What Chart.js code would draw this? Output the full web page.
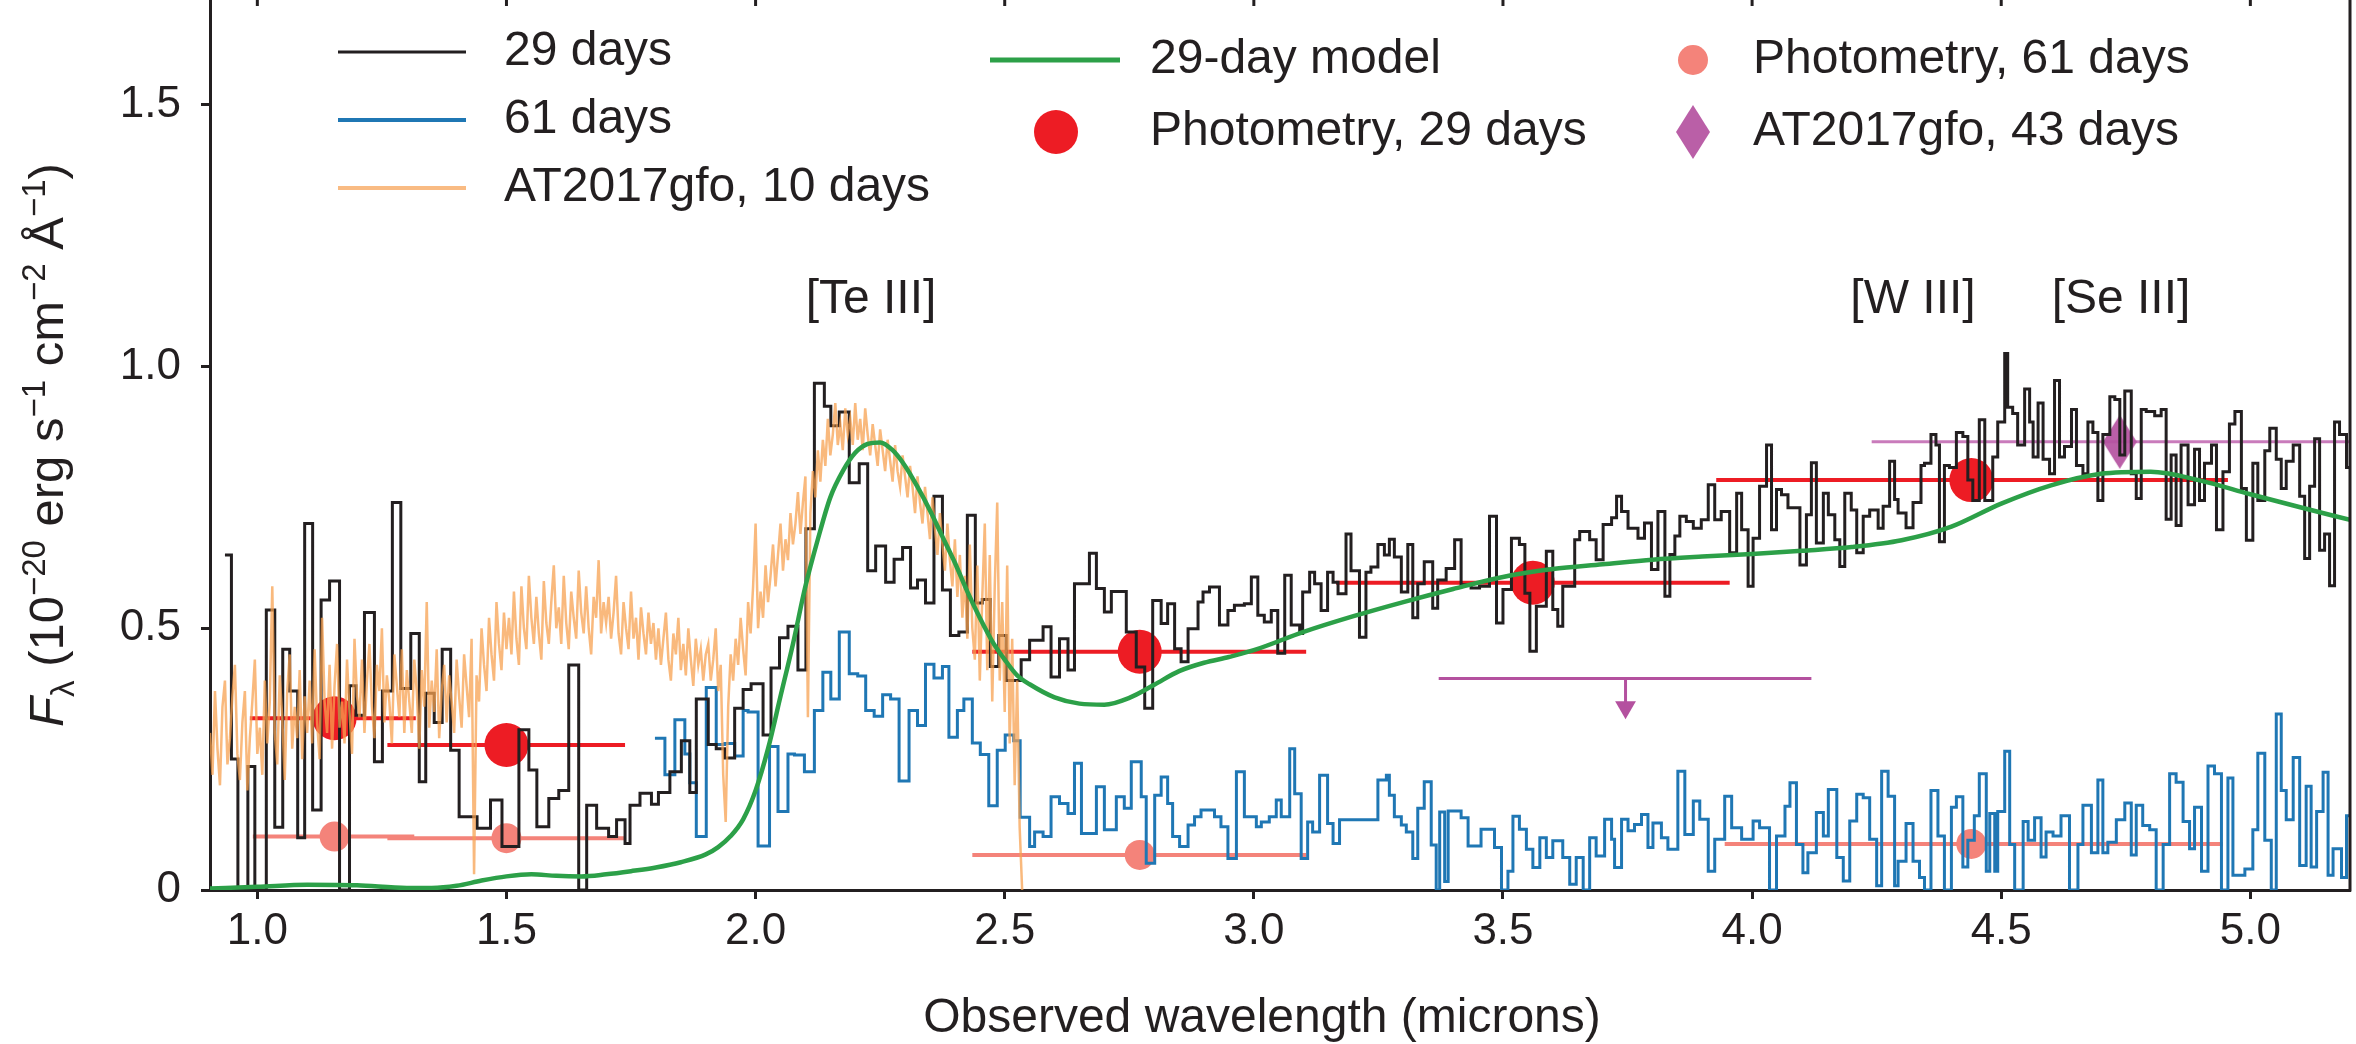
<!DOCTYPE html>
<html><head><meta charset="utf-8">
<script src="https://cdn.jsdelivr.net/npm/chart.js@4.4.1/dist/chart.umd.min.js"></script>
<style>html,body{margin:0;padding:0;background:#fff;overflow:hidden}#wrap{width:2356px;height:1044px;position:relative}</style>
</head><body><div id="wrap"><canvas id="c" width="2356" height="1044"></canvas></div>
<script>
const INK = '#231f20';
const FONT = '"Liberation Sans", Arial, Helvetica, sans-serif';
const C_BLACK = '#231f20', C_BLUE = '#1f77b4', C_ORANGE = 'rgba(247,160,80,0.74)', C_GREEN = '#2ca048';
const C_RED = '#ed1c24', C_SALMON = '#f4837a', C_MAG = '#b4519f', C_MAG_LIGHT = '#c97bbb';

const xTicks = [1.0, 1.5, 2.0, 2.5, 3.0, 3.5, 4.0, 4.5, 5.0];
const xTickLabels = ['1.0', '1.5', '2.0', '2.5', '3.0', '3.5', '4.0', '4.5', '5.0'];
const yTicks = [0, 0.5, 1.0, 1.5];
const yTickLabels = ['0', '0.5', '1.0', '1.5'];
const xRange = [0.905, 5.2];
const yRange = [0, 1.7];

// 29-day spectrum: [bin left edge (micron), flux]
const spec29 = [
[0.935,0.64],[0.948,0.25],[0.961,0.0],[0.981,0.236],[0.995,0.0],[1.018,0.535],[1.035,0.12],[1.051,0.46],[1.065,0.38],[1.081,0.10],
[1.095,0.70],[1.111,0.153],[1.128,0.554],[1.145,0.59],[1.165,0.0],[1.185,0.39],[1.198,0.334],[1.215,0.53],[1.235,0.245],[1.251,0.38],
[1.271,0.74],[1.288,0.385],[1.308,0.49],[1.325,0.207],[1.338,0.376],[1.355,0.32],[1.371,0.46],[1.388,0.267],[1.405,0.14],[1.441,0.118],
[1.468,0.172],[1.491,0.083],[1.525,0.306],[1.545,0.229],[1.561,0.121],[1.585,0.175],[1.605,0.19],[1.625,0.43],[1.645,0.0],[1.661,0.162],
[1.681,0.118],[1.705,0.102],[1.721,0.134],[1.738,0.089],[1.748,0.162],[1.768,0.185],[1.791,0.164],[1.805,0.186],[1.828,0.226],[1.851,0.285],
[1.868,0.186],[1.881,0.365],[1.905,0.278],[1.921,0.27],[1.938,0.252],[1.958,0.347],[1.975,0.383],[1.991,0.394],[2.015,0.296],[2.031,0.424],
[2.048,0.482],[2.065,0.504],[2.085,0.42],[2.101,0.69],[2.118,0.968],[2.138,0.924],[2.151,0.887],[2.168,0.913],[2.188,0.778],[2.208,0.814],
[2.225,0.61],[2.241,0.657],[2.261,0.588],[2.278,0.632],[2.295,0.654],[2.311,0.577],[2.325,0.592],[2.341,0.548],[2.358,0.752],[2.375,0.573],
[2.391,0.486],[2.408,0.493],[2.425,0.716],[2.441,0.548],[2.455,0.555],[2.471,0.427],[2.488,0.486],[2.503,0.40],[2.533,0.44],[2.55,0.477],
[2.577,0.503],[2.593,0.407],[2.61,0.48],[2.627,0.42],[2.64,0.585],[2.67,0.643],[2.684,0.576],[2.70,0.531],[2.714,0.57],[2.744,0.493],
[2.764,0.426],[2.781,0.347],[2.797,0.553],[2.814,0.509],[2.827,0.547],[2.841,0.461],[2.854,0.436],[2.868,0.499],[2.888,0.55],[2.898,0.569],
[2.911,0.579],[2.931,0.506],[2.948,0.534],[2.961,0.544],[2.981,0.547],[2.995,0.598],[3.008,0.525],[3.021,0.512],[3.035,0.534],[3.048,0.452],
[3.062,0.601],[3.075,0.506],[3.092,0.49],[3.098,0.569],[3.112,0.607],[3.122,0.585],[3.135,0.534],[3.148,0.607],[3.159,0.588],[3.169,0.566],
[3.185,0.68],[3.195,0.61],[3.212,0.483],[3.225,0.607],[3.235,0.617],[3.249,0.66],[3.262,0.64],[3.272,0.67],[3.282,0.636],[3.296,0.569],
[3.309,0.66],[3.319,0.52],[3.329,0.585],[3.342,0.627],[3.359,0.538],[3.369,0.592],[3.386,0.614],[3.403,0.669],[3.416,0.583],[3.436,0.577],
[3.453,0.58],[3.473,0.714],[3.487,0.51],[3.50,0.574],[3.517,0.672],[3.533,0.66],[3.544,0.567],[3.554,0.456],[3.567,0.542],[3.587,0.647],
[3.60,0.536],[3.61,0.504],[3.62,0.58],[3.644,0.669],[3.654,0.685],[3.674,0.669],[3.687,0.631],[3.701,0.698],[3.718,0.711],[3.728,0.752],
[3.738,0.723],[3.751,0.691],[3.771,0.672],[3.784,0.701],[3.798,0.612],[3.811,0.723],[3.825,0.561],[3.835,0.641],[3.845,0.676],[3.855,0.714],
[3.868,0.704],[3.882,0.691],[3.898,0.707],[3.912,0.774],[3.925,0.707],[3.938,0.723],[3.955,0.644],[3.969,0.758],[3.979,0.688],[3.992,0.58],
[4.002,0.672],[4.015,0.771],[4.029,0.85],[4.039,0.688],[4.049,0.765],[4.059,0.755],[4.072,0.73],[4.096,0.621],[4.109,0.717],[4.119,0.816],
[4.129,0.663],[4.143,0.758],[4.153,0.717],[4.166,0.669],[4.176,0.618],[4.186,0.758],[4.199,0.726],[4.21,0.644],[4.223,0.714],[4.236,0.726],
[4.253,0.691],[4.263,0.733],[4.276,0.819],[4.286,0.746],[4.293,0.72],[4.309,0.692],[4.323,0.74],[4.339,0.811],[4.346,0.815],[4.359,0.87],
[4.369,0.85],[4.376,0.665],[4.386,0.811],[4.396,0.807],[4.41,0.874],[4.423,0.866],[4.433,0.783],[4.443,0.744],[4.456,0.898],[4.467,0.744],
[4.483,0.827],[4.493,0.894],[4.507,1.025],[4.513,0.922],[4.523,0.91],[4.533,0.85],[4.547,0.957],[4.557,0.894],[4.564,0.827],[4.574,0.93],
[4.584,0.823],[4.597,0.795],[4.607,0.973],[4.617,0.827],[4.627,0.847],[4.641,0.918],[4.651,0.811],[4.664,0.795],[4.674,0.894],[4.684,0.874],
[4.694,0.744],[4.704,0.87],[4.718,0.942],[4.728,0.937],[4.738,0.831],[4.748,0.953],[4.761,0.795],[4.771,0.748],[4.781,0.918],[4.791,0.914],
[4.808,0.906],[4.821,0.918],[4.831,0.708],[4.841,0.831],[4.851,0.696],[4.861,0.85],[4.875,0.736],[4.888,0.842],[4.898,0.744],[4.908,0.815],
[4.922,0.85],[4.932,0.688],[4.945,0.799],[4.958,0.89],[4.969,0.914],[4.982,0.767],[4.992,0.668],[5.005,0.815],[5.015,0.744],[5.029,0.839],
[5.039,0.882],[5.052,0.823],[5.062,0.767],[5.072,0.819],[5.086,0.85],[5.099,0.752],[5.109,0.633],[5.119,0.771],[5.129,0.862],[5.139,0.649],
[5.149,0.68],[5.159,0.581],[5.169,0.894],[5.179,0.87],[5.193,0.807]
];
const spec29End = 5.2;

// 61-day spectrum: [bin left edge, flux]
const spec61 = [
[1.798,0.29],[1.818,0.22],[1.838,0.325],[1.858,0.26],[1.868,0.205],[1.881,0.102],[1.901,0.387],[1.921,0.278],[1.938,0.28],[1.958,0.256],
[1.975,0.343],[1.985,0.34],[2.005,0.084],[2.028,0.274],[2.045,0.15],[2.065,0.26],[2.078,0.258],[2.098,0.226],[2.118,0.343],[2.135,0.416],
[2.151,0.365],[2.168,0.493],[2.188,0.413],[2.205,0.409],[2.221,0.343],[2.238,0.332],[2.255,0.373],[2.271,0.365],[2.288,0.208],[2.308,0.343],
[2.325,0.314],[2.341,0.431],[2.358,0.405],[2.375,0.427],[2.388,0.292],[2.405,0.343],[2.418,0.365],[2.435,0.281],[2.451,0.259],[2.468,0.161],
[2.485,0.267],[2.501,0.296],[2.518,0.285],[2.531,0.139],[2.55,0.083],[2.56,0.111],[2.577,0.102],[2.593,0.178],[2.61,0.165],[2.627,0.146],
[2.64,0.242],[2.654,0.108],[2.684,0.197],[2.70,0.115],[2.724,0.178],[2.74,0.156],[2.754,0.245],[2.774,0.178],[2.784,0.051],[2.801,0.181],
[2.814,0.216],[2.827,0.165],[2.837,0.102],[2.851,0.083],[2.868,0.124],[2.881,0.14],[2.894,0.153],[2.921,0.14],[2.934,0.121],[2.948,0.06],
[2.965,0.226],[2.981,0.14],[3.005,0.121],[3.015,0.13],[3.031,0.14],[3.045,0.172],[3.055,0.14],[3.072,0.27],[3.082,0.184],[3.095,0.06],
[3.108,0.13],[3.118,0.111],[3.132,0.219],[3.148,0.127],[3.159,0.089],[3.172,0.134],[3.249,0.21],[3.266,0.219],[3.272,0.181],[3.282,0.14],
[3.296,0.124],[3.306,0.111],[3.319,0.06],[3.329,0.156],[3.342,0.207],[3.356,0.086],[3.366,0.0],[3.373,0.149],[3.383,0.016],[3.39,0.151],
[3.416,0.138],[3.43,0.084],[3.456,0.116],[3.483,0.081],[3.497,0.0],[3.51,0.036],[3.52,0.141],[3.533,0.116],[3.547,0.078],[3.56,0.043],
[3.574,0.1],[3.587,0.062],[3.60,0.094],[3.62,0.062],[3.634,0.011],[3.647,0.062],[3.661,0.0],[3.674,0.1],[3.687,0.065],[3.704,0.135],
[3.718,0.097],[3.724,0.043],[3.738,0.135],[3.751,0.113],[3.764,0.125],[3.778,0.144],[3.791,0.081],[3.801,0.128],[3.818,0.1],[3.831,0.078],
[3.851,0.227],[3.865,0.106],[3.882,0.17],[3.895,0.135],[3.912,0.036],[3.925,0.097],[3.945,0.179],[3.959,0.119],[3.979,0.097],[4.002,0.132],
[4.015,0.119],[4.035,0.0],[4.049,0.103],[4.066,0.16],[4.076,0.205],[4.089,0.087],[4.102,0.033],[4.112,0.071],[4.129,0.148],[4.143,0.103],
[4.153,0.192],[4.17,0.062],[4.183,0.017],[4.196,0.132],[4.21,0.183],[4.223,0.176],[4.236,0.097],[4.25,0.008],[4.26,0.227],[4.273,0.179],
[4.286,0.008],[4.293,0.055],[4.309,0.127],[4.323,0.055],[4.336,0.024],[4.346,0.0],[4.359,0.19],[4.373,0.103],[4.386,0.0],[4.40,0.158],
[4.41,0.178],[4.423,0.044],[4.433,0.095],[4.446,0.142],[4.456,0.222],[4.47,0.036],[4.477,0.146],[4.487,0.036],[4.493,0.15],[4.507,0.265],
[4.517,0.087],[4.527,0.0],[4.544,0.131],[4.554,0.095],[4.567,0.138],[4.58,0.063],[4.59,0.111],[4.604,0.103],[4.62,0.142],[4.637,0.0],
[4.654,0.087],[4.664,0.162],[4.681,0.071],[4.694,0.21],[4.704,0.071],[4.714,0.091],[4.731,0.134],[4.748,0.166],[4.761,0.067],[4.771,0.162],
[4.784,0.123],[4.798,0.115],[4.811,0.0],[4.825,0.087],[4.838,0.222],[4.851,0.206],[4.865,0.131],[4.878,0.079],[4.888,0.158],[4.902,0.036],
[4.915,0.237],[4.928,0.222],[4.942,0.0],[4.955,0.214],[4.965,0.028],[4.989,0.04],[5.005,0.115],[5.015,0.261],[5.029,0.095],[5.042,0.0],
[5.052,0.336],[5.062,0.19],[5.072,0.134],[5.086,0.253],[5.099,0.047],[5.112,0.198],[5.122,0.044],[5.133,0.15],[5.146,0.225],[5.156,0.028],
[5.166,0.079],[5.183,0.024],[5.193,0.142]
];
const spec61End = 5.2;

// AT2017gfo, 10 days: sampled every 0.005 micron from 0.905
const gfo10Start = 0.905, gfo10Step = 0.005;
const gfo10 = [
0.30,0.22,0.38,0.27,0.20,0.35,0.40,0.24,0.29,0.37,0.43,0.26,0.21,0.32,0.38,0.19,0.29,0.36,0.44,0.26,
0.31,0.22,0.40,0.28,0.36,0.58,0.30,0.24,0.41,0.33,0.21,0.38,0.45,0.27,0.35,0.29,0.42,0.25,0.37,0.30,
0.40,0.28,0.46,0.32,0.25,0.52,0.36,0.30,0.43,0.27,0.39,0.47,0.31,0.36,0.28,0.44,0.34,0.26,0.48,0.37,
0.33,0.44,0.30,0.40,0.47,0.35,0.29,0.43,0.38,0.50,0.32,0.41,0.36,0.28,0.45,0.39,0.33,0.46,0.30,0.42,
0.36,0.30,0.44,0.38,0.27,0.42,0.35,0.55,0.31,0.40,0.34,0.46,0.29,0.38,0.43,0.32,0.41,0.36,0.30,0.44,
0.37,0.31,0.45,0.39,0.33,0.48,0.03,0.41,0.36,0.50,0.43,0.38,0.52,0.45,0.40,0.55,0.47,0.42,0.53,0.46,
0.52,0.45,0.57,0.48,0.43,0.58,0.50,0.46,0.60,0.52,0.47,0.56,0.49,0.44,0.59,0.51,0.47,0.55,0.62,0.50,
0.54,0.47,0.60,0.51,0.46,0.57,0.52,0.48,0.61,0.53,0.49,0.58,0.50,0.45,0.56,0.52,0.63,0.49,0.55,0.51,
0.56,0.48,0.53,0.60,0.49,0.45,0.55,0.50,0.46,0.57,0.48,0.52,0.44,0.54,0.49,0.45,0.53,0.47,0.51,0.44,
0.50,0.43,0.48,0.53,0.44,0.40,0.49,0.45,0.52,0.42,0.47,0.41,0.50,0.44,0.39,0.48,0.43,0.46,0.40,0.45,
0.47,0.40,0.44,0.50,0.38,0.43,0.22,0.13,0.35,0.45,0.40,0.48,0.43,0.52,0.46,0.41,0.55,0.49,0.58,0.70,
0.50,0.57,0.52,0.62,0.55,0.60,0.66,0.58,0.64,0.70,0.61,0.67,0.63,0.72,0.66,0.70,0.76,0.68,0.74,0.79,
0.33,0.72,0.80,0.75,0.84,0.78,0.86,0.81,0.90,0.83,0.87,0.93,0.85,0.89,0.84,0.92,0.87,0.90,0.85,0.93,
0.86,0.90,0.84,0.92,0.87,0.83,0.89,0.85,0.81,0.88,0.84,0.80,0.86,0.82,0.78,0.85,0.80,0.77,0.83,0.79,
0.75,0.81,0.77,0.72,0.79,0.74,0.70,0.77,0.72,0.67,0.75,0.69,0.64,0.72,0.66,0.61,0.70,0.63,0.58,0.67,
0.56,0.64,0.52,0.60,0.48,0.66,0.50,0.44,0.62,0.40,0.56,0.70,0.42,0.64,0.36,0.58,0.74,0.40,0.55,0.34,
0.62,0.28,0.48,0.20,0.40,0.12,0.0
];

// 29-day model: [wavelength, flux]
const model29 = [
[0.905,0.003],[1.0,0.006],[1.1,0.010],[1.2,0.009],[1.3,0.004],[1.35,0.004],[1.4,0.008],[1.45,0.018],[1.5,0.026],[1.55,0.03],
[1.6,0.027],[1.65,0.026],[1.7,0.03],[1.75,0.036],[1.8,0.043],[1.85,0.053],[1.9,0.068],[1.925,0.082],[1.95,0.103],[1.975,0.135],
[2.0,0.19],[2.025,0.27],[2.05,0.37],[2.075,0.47],[2.1,0.58],[2.125,0.67],[2.15,0.75],[2.175,0.80],[2.2,0.835],[2.225,0.852],
[2.25,0.855],[2.275,0.84],[2.3,0.81],[2.325,0.77],[2.35,0.725],[2.375,0.675],[2.4,0.625],[2.425,0.57],[2.45,0.52],[2.475,0.475],
[2.5,0.44],[2.525,0.41],[2.55,0.393],[2.6,0.368],[2.65,0.356],[2.7,0.354],[2.75,0.367],[2.8,0.392],[2.85,0.418],[2.9,0.434],
[2.95,0.445],[3.0,0.458],[3.1,0.493],[3.2,0.523],[3.3,0.55],[3.4,0.575],[3.5,0.598],[3.6,0.613],[3.7,0.622],[3.8,0.631],
[3.9,0.637],[4.0,0.642],[4.1,0.648],[4.2,0.655],[4.3,0.668],[4.4,0.694],[4.5,0.738],[4.6,0.773],[4.7,0.795],[4.8,0.799],
[4.9,0.782],[5.0,0.756],[5.1,0.731],[5.2,0.707]
];

// Photometry, 29 days: [centre, flux], with wavelength ranges
const phot29 = [[1.155,0.328],[1.50,0.277],[2.771,0.455],[3.56,0.587],[4.44,0.783]];
const phot29Lo = [0.985,1.261,2.435,3.165,3.928];
const phot29Hi = [1.318,1.738,3.105,3.955,4.955];
// Photometry, 61 days
const phot61 = [[1.155,0.102],[1.50,0.099],[2.771,0.067],[4.44,0.088]];
const phot61Lo = [0.991,1.261,2.435,3.945];
const phot61Hi = [1.315,1.738,3.105,4.945];
// AT2017gfo, 43 days: upper limit and detection
const gfo43Limit = [3.746, 0.404];
const gfo43LimitRange = [3.371, 4.119];
const gfo43LimitTip = 0.349;
const gfo43Point = [4.738, 0.856];
const gfo43PointRange = [4.24, 5.2];

const lineLabels = [
  {text: '[Te III]', x: 871},
  {text: '[W III]', x: 1913},
  {text: '[Se III]', x: 2121}
];

function steps(pairs, end) {
  const pts = pairs.map(([x, y]) => ({x, y}));
  pts.push({x: end, y: pairs[pairs.length - 1][1]});
  return pts;
}
function hbars(centres, lo, hi) {
  const pts = [];
  centres.forEach(([x, y], i) => { pts.push({x: lo[i], y}, {x: hi[i], y}, {x: hi[i], y: null}); });
  return pts;
}
function makeDiamond(w, h, color) {
  const c = document.createElement('canvas');
  c.width = w; c.height = h;
  const g = c.getContext('2d');
  g.fillStyle = color;
  g.beginPath(); g.moveTo(w / 2, 0); g.lineTo(w, h / 2); g.lineTo(w / 2, h); g.lineTo(0, h / 2); g.closePath(); g.fill();
  return c;
}
const diamond = makeDiamond(34, 54, 'rgba(180,81,159,0.92)');

const gfo10Pts = gfo10.map((v, i) => ({x: +(gfo10Start + i * gfo10Step).toFixed(4), y: v}));

const datasets = [
  {label: '29-day model', data: model29.map(([x, y]) => ({x, y})), borderColor: C_GREEN, borderWidth: 4.5, pointRadius: 0, cubicInterpolationMode: 'monotone', order: 1},
  {label: 'AT2017gfo, 10 days', data: gfo10Pts, borderColor: C_ORANGE, borderWidth: 2.5, pointRadius: 0, tension: 0, order: 2},
  {label: '29 days', data: steps(spec29, spec29End), borderColor: C_BLACK, borderWidth: 3, pointRadius: 0, stepped: true, order: 3},
  {label: '61 days', data: steps(spec61, spec61End), borderColor: C_BLUE, borderWidth: 3, pointRadius: 0, stepped: true, order: 4},
  {label: 'limit', data: [{x: gfo43LimitRange[0], y: gfo43Limit[1]}, {x: gfo43LimitRange[1], y: gfo43Limit[1]}, {x: gfo43LimitRange[1], y: null},
      {x: gfo43Limit[0], y: gfo43Limit[1]}, {x: gfo43Limit[0], y: gfo43LimitTip}], borderColor: C_MAG, borderWidth: 3, pointRadius: 0, order: 5},
  {label: 'limit head', data: [{x: gfo43Limit[0], y: gfo43LimitTip}], showLine: false, pointStyle: 'triangle', rotation: 180, pointRadius: 12,
      backgroundColor: C_MAG, borderColor: C_MAG, borderWidth: 0, order: 5},
  {label: 'AT2017gfo, 43 days', data: [{x: gfo43Point[0], y: gfo43Point[1]}], showLine: false, pointStyle: diamond, pointRadius: 20, order: 5},
  {label: 'gfo43 bar', data: [{x: gfo43PointRange[0], y: gfo43Point[1]}, {x: gfo43PointRange[1], y: gfo43Point[1]}], borderColor: C_MAG_LIGHT, borderWidth: 3, pointRadius: 0, order: 6},
  {label: 'Photometry, 29 days', data: phot29.map(([x, y]) => ({x, y})), showLine: false, pointRadius: 22, backgroundColor: C_RED, borderWidth: 0, order: 7},
  {label: 'phot29 bars', data: hbars(phot29, phot29Lo, phot29Hi), borderColor: C_RED, borderWidth: 4, pointRadius: 0, order: 7},
  {label: 'Photometry, 61 days', data: phot61.map(([x, y]) => ({x, y})), showLine: false, pointRadius: 15, backgroundColor: C_SALMON, borderWidth: 0, order: 8},
  {label: 'phot61 bars', data: hbars(phot61, phot61Lo, phot61Hi), borderColor: C_SALMON, borderWidth: 4, pointRadius: 0, order: 8}
];

function drawRich(ctx, parts, cx, baseY) {
  let total = 0;
  parts.forEach(p => { ctx.font = p.font; p.w = ctx.measureText(p.t).width; total += p.w; });
  let x = cx - total / 2;
  parts.forEach(p => { ctx.font = p.font; ctx.fillText(p.t, x, baseY + (p.dy || 0)); x += p.w; });
}

const overlay = {
  id: 'overlay',
  afterDraw(chart) {
    const {ctx, chartArea: a, scales} = chart;
    const xs = scales.x;
    ctx.save();
    ctx.strokeStyle = INK; ctx.lineWidth = 3;
    ctx.beginPath(); ctx.moveTo(a.right, a.top); ctx.lineTo(a.right, a.bottom + 1.5); ctx.stroke();
    xTicks.forEach(v => { const px = xs.getPixelForValue(v); ctx.beginPath(); ctx.moveTo(px, a.top); ctx.lineTo(px, a.top + 6); ctx.stroke(); });

    ctx.fillStyle = INK;
    const big = `48px ${FONT}`;
    ctx.font = big; ctx.textAlign = 'center'; ctx.textBaseline = 'middle';
    lineLabels.forEach(l => ctx.fillText(l.text, l.x, 300));

    ctx.textAlign = 'left'; ctx.textBaseline = 'middle'; ctx.font = big;
    const col1 = [{t: '29 days', c: C_BLACK, w: 3, y: 52}, {t: '61 days', c: C_BLUE, w: 4, y: 120}, {t: 'AT2017gfo, 10 days', c: 'rgba(247,170,100,0.8)', w: 4, y: 188}];
    col1.forEach(e => {
      ctx.strokeStyle = e.c; ctx.lineWidth = e.w;
      ctx.beginPath(); ctx.moveTo(338, e.y); ctx.lineTo(466, e.y); ctx.stroke();
      ctx.fillStyle = INK; ctx.fillText(e.t, 504, e.y);
    });
    ctx.strokeStyle = C_GREEN; ctx.lineWidth = 5;
    ctx.beginPath(); ctx.moveTo(990, 60); ctx.lineTo(1120, 60); ctx.stroke();
    ctx.fillStyle = INK; ctx.fillText('29-day model', 1150, 60);
    ctx.fillStyle = C_RED; ctx.beginPath(); ctx.arc(1056, 132, 22, 0, 2 * Math.PI); ctx.fill();
    ctx.fillStyle = INK; ctx.fillText('Photometry, 29 days', 1150, 132);
    ctx.fillStyle = C_SALMON; ctx.beginPath(); ctx.arc(1693, 60, 15, 0, 2 * Math.PI); ctx.fill();
    ctx.fillStyle = INK; ctx.fillText('Photometry, 61 days', 1753, 60);
    ctx.drawImage(diamond, 1693 - 17, 132 - 27);
    ctx.fillStyle = INK; ctx.fillText('AT2017gfo, 43 days', 1753, 132);

    ctx.textAlign = 'left'; ctx.textBaseline = 'alphabetic';
    ctx.font = big;
    const xt = 'Observed wavelength (microns)';
    const xw = ctx.measureText(xt).width;
    ctx.fillText(xt, 1262 - xw / 2, 1032);

    ctx.translate(63, 445); ctx.rotate(-Math.PI / 2);
    const sup = `33px ${FONT}`;
    const main = `49px ${FONT}`;
    drawRich(ctx, [
      {t: 'F', font: `italic 49px ${FONT}`},
      {t: 'λ', font: sup, dy: 11},
      {t: ' (10', font: main},
      {t: '−20', font: sup, dy: -18},
      {t: ' erg s', font: main},
      {t: '−1', font: sup, dy: -18},
      {t: ' cm', font: main},
      {t: '−2', font: sup, dy: -18},
      {t: ' Å', font: main},
      {t: '−1', font: sup, dy: -18},
      {t: ')', font: main}
    ], 0, 0);
    ctx.restore();
  }
};

function fixPad(s) { s.paddingTop = 0; s.paddingBottom = 0; s.paddingLeft = 0; s.paddingRight = 0; }

Chart.defaults.font.family = FONT;
new Chart(document.getElementById('c'), {
  type: 'line',
  data: {datasets},
  options: {
    responsive: false, animation: false, devicePixelRatio: 1,
    layout: {autoPadding: false, padding: {left: 0, right: 6, top: 0, bottom: 0}},
    plugins: {legend: {display: false}, tooltip: {enabled: false}},
    elements: {line: {fill: false}},
    scales: {
      x: {
        type: 'linear', min: xRange[0], max: xRange[1],
        afterFit: s => { s.height = 154; fixPad(s); },
        afterBuildTicks: s => { s.ticks = xTicks.map(v => ({value: v})); },
        ticks: {callback: (v, i) => xTickLabels[i], font: {size: 44}, color: INK, padding: 6, maxRotation: 0, autoSkip: false},
        grid: {display: true, drawOnChartArea: false, drawTicks: true, tickLength: 9, tickWidth: 3, tickColor: INK},
        border: {display: true, color: INK, width: 3}
      },
      y: {
        type: 'linear', min: yRange[0], max: yRange[1],
        afterFit: s => { s.width = 210; fixPad(s); },
        afterBuildTicks: s => { s.ticks = yTicks.map(v => ({value: v})); },
        ticks: {callback: (v, i) => yTickLabels[i], font: {size: 44}, color: INK, padding: 20, autoSkip: false},
        grid: {display: true, drawOnChartArea: false, drawTicks: true, tickLength: 9, tickWidth: 3, tickColor: INK},
        border: {display: true, color: INK, width: 3}
      }
    }
  },
  plugins: [overlay]
});
</script></body></html>
